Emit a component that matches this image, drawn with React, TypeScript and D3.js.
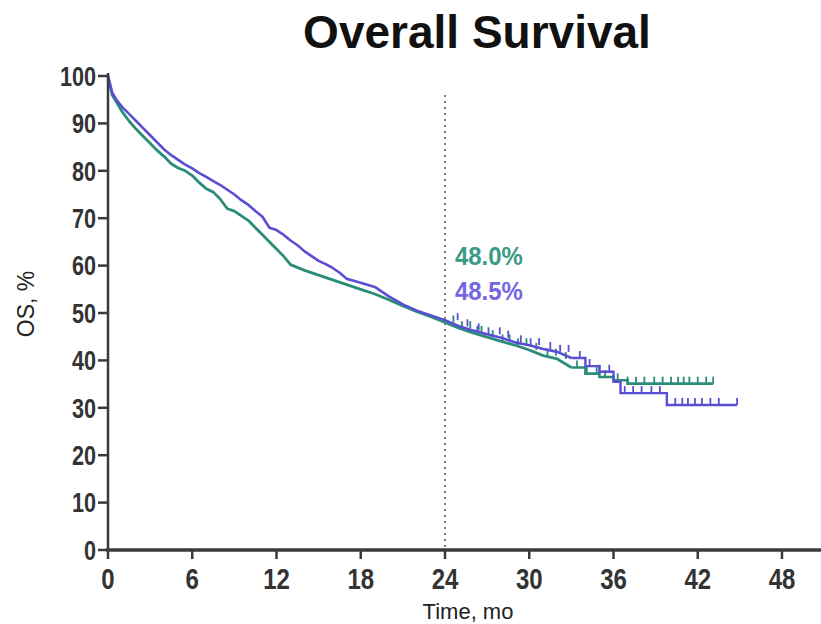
import React from "react";
import * as d3 from "d3";

const title = "Overall Survival";
const xTicks = [0, 6, 12, 18, 24, 30, 36, 42, 48];
const yTicks = [0, 10, 20, 30, 40, 50, 60, 70, 80, 90, 100];

const greenTimes = [0, 0.3, 0.6, 1.0, 1.5, 2.0, 2.5, 3.0, 3.5, 4.0, 4.5, 5.0, 5.5, 6.0, 6.5, 7.0, 7.5, 8.0, 8.5, 9.0, 9.5, 10.0, 10.5, 11.0, 11.5, 12.0, 12.5, 13.0, 14, 15, 16, 17, 18, 19, 20, 21, 22, 23, 24, 25, 26, 27, 28, 29, 30, 31, 32, 33, 34, 35, 36, 37, 43.1];
const greenSurv = [100, 96, 94.5, 92.5, 90.5, 88.8, 87.3, 85.8, 84.3, 83, 81.5, 80.6, 80, 79, 77.5, 76.2, 75.5, 74, 72, 71.5, 70.5, 69.5, 68, 66.5, 65, 63.5, 62, 60.2, 59, 58, 57, 56, 55, 54, 52.8, 51.5, 50.3, 49.2, 48.0, 46.8, 45.8, 44.9, 44.0, 43.2, 42.2, 41.0, 40.3, 38.5, 37.2, 36.5, 35.8, 35.1, 35.1];

const purpleTimes = [0, 0.3, 0.6, 1.0, 1.5, 2.0, 2.5, 3.0, 3.5, 4.0, 4.5, 5.0, 5.5, 6.0, 6.5, 7.0, 7.5, 8.0, 8.5, 9.0, 9.5, 10.0, 10.5, 11.0, 11.5, 12.0, 12.5, 13.0, 13.5, 14.0, 14.5, 15.0, 15.5, 16.0, 16.5, 17.0, 17.5, 19.0, 19.5, 20, 21, 22, 23, 24, 25, 26, 27, 28, 29, 30, 31, 32, 33, 34, 35, 36, 36.5, 39.8, 44.8];
const purpleSurv = [100, 96.5, 95, 93.5, 92, 90.5, 89, 87.5, 86, 84.5, 83.3, 82.3, 81.3, 80.5, 79.5, 78.7, 77.8, 77, 76, 75, 73.8, 72.8, 71.5, 70.3, 68, 67.5, 66.5, 65.3, 64.3, 63, 62, 61, 60.3, 59.5, 58.5, 57.2, 56.8, 55.5, 54.5, 53.5, 51.8, 50.5, 49.5, 48.5, 47.2, 46.3, 45.5, 44.8, 43.8, 43.2, 42.4, 41.8, 40.5, 38.8, 37.6, 35.5, 33.1, 30.6, 30.6];

const greenCensor = [24.6, 25.2, 25.8, 26.3, 26.6, 27.4, 28.1, 28.6, 29.2, 29.8, 30.5, 31.3, 31.9, 32.6, 33.4, 34.1, 34.8, 35.4, 36.3, 37.0, 37.6, 38.2, 38.9, 39.5, 40.1, 40.6, 41.0, 41.4, 42.0, 42.6, 43.1];
const purpleCensor = [24.9, 25.6, 26.4, 27.1, 27.9, 28.5, 29.4, 30.1, 30.7, 31.5, 32.2, 32.8, 33.6, 34.3, 35.0, 35.7, 36.8, 37.4, 38.0, 38.7, 39.3, 40.4, 40.9, 41.3, 41.8, 42.3, 42.9, 43.5, 44.8];

const landmark = 24;
const greenLabel = "48.0%";
const purpleLabel = "48.5%";

const GREEN = "#2b8c7a";
const PURPLE = "#5a4ed2";

function stepAt(times: number[], surv: number[], t: number) {
  let v = surv[0];
  for (let i = 0; i < times.length; i++) if (times[i] <= t) v = surv[i];
  return v;
}

export default function App() {
  const W = 821, H = 624;
  const x = d3.scaleLinear().domain([0, 48]).range([108, 782]);
  const y = d3.scaleLinear().domain([0, 100]).range([550, 76]);
  const lineLin = d3.line<[number, number]>().x(d => x(d[0])).y(d => y(d[1]));
  const lineStep = d3.line<[number, number]>().x(d => x(d[0])).y(d => y(d[1])).curve(d3.curveStepAfter);
  const split = 33;
  const gPts = greenTimes.map((t, i) => [t, greenSurv[i]] as [number, number]);
  const pPts = purpleTimes.map((t, i) => [t, purpleSurv[i]] as [number, number]);
  const gHead = gPts.filter(p => p[0] <= split), gTail = gPts.filter(p => p[0] >= split);
  const pHead = pPts.filter(p => p[0] <= split), pTail = pPts.filter(p => p[0] >= split);
  const font = "'Liberation Sans', Arial, sans-serif";
  const axisColor = "#3a3a3a";
  const sx = 0.8;

  return (
    <svg width={W} height={H} style={{ position: "absolute", left: 0, top: 0, background: "#fff" }}>
      <rect width={W} height={H} fill="#fff" />
      <text x={477} y={48} textAnchor="middle" fontFamily={font} fontWeight="bold" fontSize={46} fill="#111">{title}</text>

      <line x1={x(landmark)} x2={x(landmark)} y1={y(96)} y2={y(0)} stroke="#555" strokeWidth={1.6} strokeDasharray="2,4" />

      <path d={lineLin(gHead) || ""} fill="none" stroke={GREEN} strokeWidth={2.8} strokeLinejoin="round" />
      <path d={lineStep(gTail) || ""} fill="none" stroke={GREEN} strokeWidth={2.6} />
      {greenCensor.map((t, i) => {
        const v = stepAt(greenTimes, greenSurv, t);
        return <line key={"gc" + i} x1={x(t)} x2={x(t)} y1={y(v)} y2={y(v) - 7} stroke={GREEN} strokeWidth={1.8} />;
      })}
      <path d={lineLin(pHead) || ""} fill="none" stroke={PURPLE} strokeWidth={2.6} strokeLinejoin="round" />
      <path d={lineStep(pTail) || ""} fill="none" stroke={PURPLE} strokeWidth={2.4} />
      {purpleCensor.map((t, i) => {
        const v = stepAt(purpleTimes, purpleSurv, t);
        return <line key={"pc" + i} x1={x(t)} x2={x(t)} y1={y(v)} y2={y(v) - 7} stroke={PURPLE} strokeWidth={1.8} />;
      })}

      <text transform={`translate(${x(landmark) + 10},265) scale(0.92,1)`} fontFamily={font} fontWeight="bold" fontSize={26} fill="#3a9a88">{greenLabel}</text>
      <text transform={`translate(${x(landmark) + 10},300) scale(0.92,1)`} fontFamily={font} fontWeight="bold" fontSize={26} fill="#7465e2">{purpleLabel}</text>

      <line x1={108} x2={108} y1={y(0) + 1} y2={y(100) - 3} stroke={axisColor} strokeWidth={2.5} />
      {yTicks.map(v => (
        <g key={"y" + v}>
          <line x1={98} x2={108} y1={y(v)} y2={y(v)} stroke={axisColor} strokeWidth={2.5} />
          <text transform={`translate(96,${y(v)}) scale(${sx},1)`} dy="0.36em" textAnchor="end" fontFamily={font} fontWeight="bold" fontSize={27} fill="#333">{v}</text>
        </g>
      ))}
      <text transform={`translate(34,304) rotate(-90)`} textAnchor="middle" fontFamily={font} fontSize={23} fill="#222">OS, %</text>

      <line x1={106} x2={W} y1={y(0)} y2={y(0)} stroke={axisColor} strokeWidth={3.5} />
      {xTicks.map(t => (
        <g key={"x" + t}>
          <line x1={x(t)} x2={x(t)} y1={y(0)} y2={y(0) + 9} stroke={axisColor} strokeWidth={2.5} />
          <text transform={`translate(${x(t)},589) scale(${sx},1)`} textAnchor="middle" fontFamily={font} fontWeight="bold" fontSize={30} fill="#333">{t}</text>
        </g>
      ))}
      <text x={468} y={619} textAnchor="middle" fontFamily={font} fontSize={22} fill="#222">Time, mo</text>
    </svg>
  );
}
